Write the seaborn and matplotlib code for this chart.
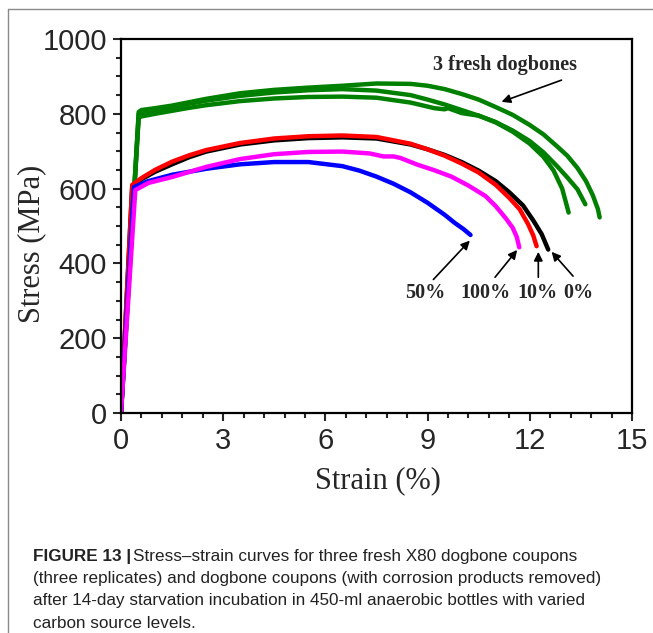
import numpy as np
import pandas as pd
import seaborn as sns
import matplotlib
matplotlib.use("Agg")
import matplotlib.pyplot as plt
from matplotlib import font_manager
from matplotlib.lines import Line2D
from matplotlib.ticker import MultipleLocator

# ---- stress-strain data (strain in %, stress in MPa) ----
fresh1_strain = [0, 0.52, 0.6, 1.0, 1.5, 2.0, 2.5, 3.5, 4.5, 5.5, 6.5, 7.5, 8.5, 9.0, 9.5,
                 10.0, 10.5, 11.0, 11.5, 12.0, 12.4, 12.8, 13.1, 13.4, 13.65, 13.85,
                 14.0, 14.05]
fresh1_stress = [0, 805, 810, 815, 822, 831, 840, 855, 864, 870, 875, 881, 880, 875, 866,
                 853, 838, 818, 797, 770, 745, 713, 688, 655, 620, 582, 545, 523]

fresh2_strain = [0, 0.52, 0.6, 1.0, 1.5, 2.0, 2.5, 3.5, 4.5, 5.5, 6.5, 7.5, 8.5, 9.0, 9.5,
                 10.0, 10.5, 11.0, 11.5, 12.0, 12.4, 12.8, 13.1, 13.4, 13.63]
fresh2_stress = [0, 800, 803, 810, 818, 827, 835, 848, 857, 863, 866, 862, 850, 838, 825,
                 810, 795, 778, 755, 727, 697, 660, 630, 598, 558]

fresh3_strain = [0, 0.52, 0.6, 1.0, 1.5, 2.0, 2.5, 3.5, 4.5, 5.5, 6.5, 7.5, 8.5, 9.2, 9.5,
                 9.6, 10.0, 10.5, 11.0, 11.5, 12.0, 12.4, 12.7, 12.95, 13.14]
fresh3_stress = [0, 790, 793, 800, 808, 816, 823, 834, 841, 845, 846, 843, 830, 815, 812,
                 815, 802, 795, 777, 752, 720, 685, 648, 600, 536]

c0_strain = [0, 0.33, 0.6, 1.0, 1.5, 2.0, 2.5, 3.5, 4.5, 5.5, 6.5, 7.5, 8.5, 9.0, 9.5,
             10.0, 10.5, 11.0, 11.4, 11.8, 12.1, 12.35, 12.54]
c0_stress = [0, 607, 625, 645, 665, 684, 699, 718, 729, 735, 737, 734, 718, 705, 690,
             671, 648, 620, 590, 555, 515, 478, 437]

c10_strain = [0, 0.33, 0.6, 1.0, 1.5, 2.0, 2.5, 3.5, 4.5, 5.5, 6.5, 7.5, 8.5, 9.0, 9.5,
              10.0, 10.5, 11.0, 11.4, 11.7, 11.95, 12.1, 12.2]
c10_stress = [0, 610, 628, 650, 672, 689, 703, 722, 734, 740, 742, 738, 720, 705, 688,
              667, 643, 610, 575, 545, 505, 475, 446]

c50_strain = [0, 0.38, 0.8, 1.5, 2.5, 3.5, 4.5, 5.5, 6.5, 7.0, 7.5, 8.0, 8.5, 9.0, 9.5,
              9.8, 10.05, 10.26]
c50_stress = [0, 604, 620, 637, 653, 665, 671, 671, 660, 648, 632, 613, 590, 562, 530,
              508, 492, 476]

c100_strain = [0, 0.42, 0.8, 1.5, 2.5, 3.5, 4.5, 5.5, 6.5, 7.3, 7.7, 8.0, 8.2, 8.7,
               9.2, 9.7, 10.2, 10.7, 11.0, 11.3, 11.5, 11.62, 11.69]
c100_stress = [0, 596, 615, 631, 658, 679, 692, 698, 699, 694, 686, 686, 682, 664,
               649, 632, 608, 580, 553, 520, 495, 470, 443]

series_names = ["fresh 1", "fresh 2", "fresh 3", "0%", "10%", "50%", "100%"]
series_colors = ["#008000", "#008000", "#008000", "#000000", "#ff0000", "#0000ff", "#ff00ff"]

x_ticks = [0, 3, 6, 9, 12, 15]
y_ticks = [0, 200, 400, 600, 800, 1000]

# ---- fonts ----
sns.set_style("ticks")
installed = {f.name for f in font_manager.fontManager.ttflist}
serif = "Liberation Serif"
sans = "Liberation Sans"
narrow = "Liberation Sans Narrow" if "Liberation Sans Narrow" in installed else None
plt.rcParams["font.family"] = [sans, "DejaVu Sans"]

fig = plt.figure(figsize=(6.53, 6.33), dpi=100)
fig.patch.set_facecolor("white")
W, H = 653, 633
ax = fig.add_axes([121 / W, 1 - 413 / H, 511 / W, 374 / H])

frames = [
    (fresh1_strain, fresh1_stress), (fresh2_strain, fresh2_stress),
    (fresh3_strain, fresh3_stress), (c0_strain, c0_stress),
    (c10_strain, c10_stress), (c50_strain, c50_stress),
    (c100_strain, c100_stress),
]
for name, color, (xs, ys) in zip(series_names, series_colors, frames):
    df = pd.DataFrame({"Strain": xs, "Stress": ys})
    sns.lineplot(data=df, x="Strain", y="Stress", sort=False, estimator=None,
                 color=color, lw=3.2, ax=ax, solid_capstyle="round",
                 solid_joinstyle="round")

ax.set_xlim(0, 15)
ax.set_ylim(0, 1000)
ax.set_xticks(x_ticks)
ax.set_yticks(y_ticks)
ax.xaxis.set_minor_locator(MultipleLocator(0.6))
ax.yaxis.set_minor_locator(MultipleLocator(50))
ax.tick_params(which="major", direction="out", length=6, width=1.5, pad=4,
               labelsize=21, top=False, right=False)
ax.tick_params(which="minor", direction="out", length=3.6, width=1.5,
               top=False, right=False)
for sp in ax.spines.values():
    sp.set_visible(True)
    sp.set_linewidth(1.6)
    sp.set_color("black")

ax.set_xlabel("Strain (%)", fontsize=22, family=serif)
ax.set_ylabel("Stress (MPa)", fontsize=22, family=serif)
ax.xaxis.set_label_coords(0.503, -0.182)
ax.xaxis.label.set_va("center")
ax.yaxis.set_label_coords(-0.174, 0.452)
ax.yaxis.label.set_va("center")

# ---- annotations ----
ann_font = dict(family=serif, fontweight="bold", fontsize=14.5, ha="center", va="center")
arrow = dict(arrowstyle="-|>", color="black", lw=1.2, mutation_scale=13, shrinkA=0, shrinkB=0)

ax.text(11.27, 930, "3 fresh dogbones", **ann_font)
ax.annotate("", xy=(11.17, 832), xytext=(12.93, 890), arrowprops=arrow)

labels = [("50%", 8.92, (10.24, 461), (9.17, 357)),
          ("100%", 10.71, (11.63, 436), (10.98, 363)),
          ("10%", 12.21, (12.25, 431), (12.25, 363)),
          ("0%", 13.43, (12.64, 431), (13.27, 366))]
for text, lx, tip, tail in labels:
    ax.text(lx, 321, text, **ann_font)
    ax.annotate("", xy=tip, xytext=tail, arrowprops=arrow)

# ---- panel border (top and left edges) ----
border = dict(color="#8a8a8a", lw=1.0, transform=fig.transFigure)
fig.add_artist(Line2D([8 / W, 1], [1 - 9 / H, 1 - 9 / H], **border))
fig.add_artist(Line2D([8 / W, 8 / W], [0, 1 - 9 / H], **border))

# ---- caption ----
cap_family = [narrow, "DejaVu Sans"] if narrow else [sans, "DejaVu Sans"]
cap_size = 14 if narrow else 12.3
cap_color = "#222222"
lines = [
    "Stress\u2013strain curves for three fresh X80 dogbone coupons",
    "(three replicates) and dogbone coupons (with corrosion products removed)",
    "after 14-day starvation incubation in 450-ml anaerobic bottles with varied",
    "carbon source levels.",
]
line_y = [557, 579, 601, 623]
x0 = 33 / W
head = fig.text(x0, 1 - line_y[0] / H, "FIGURE 13 |", family=cap_family,
                fontweight="bold", fontsize=cap_size, ha="left", va="center",
                color=cap_color)
fig.canvas.draw()
bb = head.get_window_extent(renderer=fig.canvas.get_renderer())
fig.text(bb.x1 / W + 2 / W, 1 - line_y[0] / H, lines[0], family=cap_family,
         fontsize=cap_size, ha="left", va="center", color=cap_color)
for txt, y in zip(lines[1:], line_y[1:]):
    fig.text(x0, 1 - y / H, txt, family=cap_family, fontsize=cap_size,
             ha="left", va="center", color=cap_color)

fig.savefig("out.png", dpi=100, facecolor="white")
